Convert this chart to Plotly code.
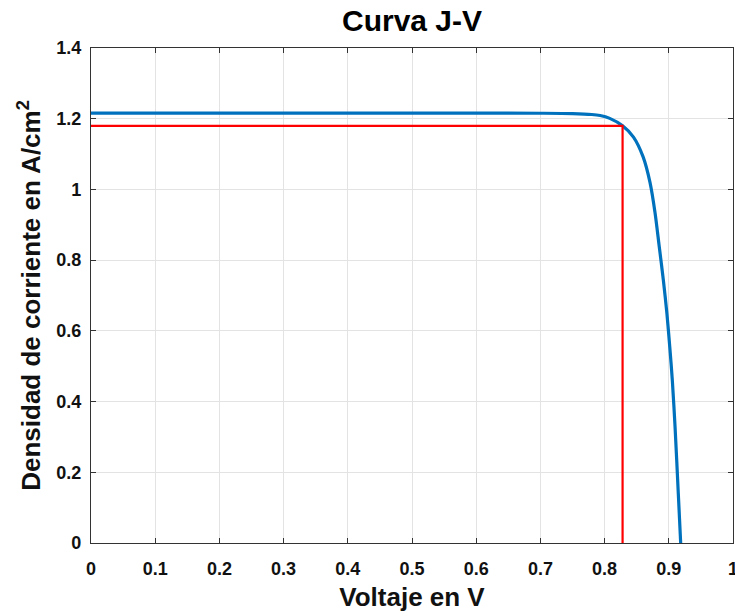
import plotly.graph_objects as go

voltage = [0.0, 0.1, 0.2, 0.3, 0.4, 0.5, 0.6, 0.7, 0.75, 0.78, 0.793, 0.808, 0.828,
           0.845, 0.860, 0.8707, 0.8785, 0.885, 0.8915, 0.897, 0.9015, 0.9055, 0.9097,
           0.9148, 0.9185]
current = [1.216, 1.216, 1.216, 1.216, 1.216, 1.216, 1.216, 1.2155, 1.2145, 1.212, 1.209,
           1.201, 1.18, 1.148, 1.092, 1.02, 0.935, 0.84, 0.744, 0.65, 0.555, 0.46, 0.33,
           0.14, 0.0]

v_mp = 0.828
j_mp = 1.18
red_x = [0, v_mp, v_mp]
red_y = [j_mp, j_mp, 0]

x_ticks = [0, 0.1, 0.2, 0.3, 0.4, 0.5, 0.6, 0.7, 0.8, 0.9, 1]
x_labels = ["0", "0.1", "0.2", "0.3", "0.4", "0.5", "0.6", "0.7", "0.8", "0.9", "1"]
y_ticks = [0, 0.2, 0.4, 0.6, 0.8, 1, 1.2, 1.4]
y_labels = ["0", "0.2", "0.4", "0.6", "0.8", "1", "1.2", "1.4"]

fig = go.Figure()
fig.add_trace(go.Scatter(x=voltage, y=current, mode="lines",
                         line=dict(color="#0072BD", width=3.2, shape="spline", smoothing=0.8),
                         showlegend=False))
fig.add_trace(go.Scatter(x=red_x, y=red_y, mode="lines",
                         line=dict(color="#FF0000", width=2.2), showlegend=False))

tickfont = dict(family="Liberation Sans Narrow, Liberation Sans, Arial", size=18, color="#111", weight="bold")
axcommon = dict(showline=True, linecolor="#333333", linewidth=1.2, mirror="ticks",
                ticks="inside", ticklen=5, tickcolor="#333333",
                showgrid=True, gridcolor="#E3E3E3", gridwidth=1, zeroline=False,
                tickfont=tickfont, ticklabeloverflow="allow", automargin=False)

fig.update_layout(
    width=735, height=615,
    margin=dict(l=91, r=2, t=48, b=72),
    paper_bgcolor="white", plot_bgcolor="white",
    title=dict(text="<b>Curva J-V</b>", x=(91 + 733) / 2 / 735, xanchor="center",
               y=1 - 20 / 615, yanchor="middle",
               font=dict(family="Liberation Sans, Arial", size=30, color="black")),
    xaxis=dict(range=[0, 1], tickvals=x_ticks, ticktext=x_labels, ticklabelstandoff=9,
               title=dict(text="<b>Voltaje en V</b>", standoff=10,
                          font=dict(family="Liberation Sans, Arial", size=26, color="#111")),
               **axcommon),
    yaxis=dict(range=[0, 1.4], tickvals=y_ticks, ticktext=y_labels, ticklabelstandoff=5,
               title=dict(text="<b>Densidad de corriente en A/cm<sup>2</sup></b>", standoff=8,
                          font=dict(family="Liberation Sans, Arial", size=26, color="#111")),
               **axcommon),
)

fig.write_html("out.html")
